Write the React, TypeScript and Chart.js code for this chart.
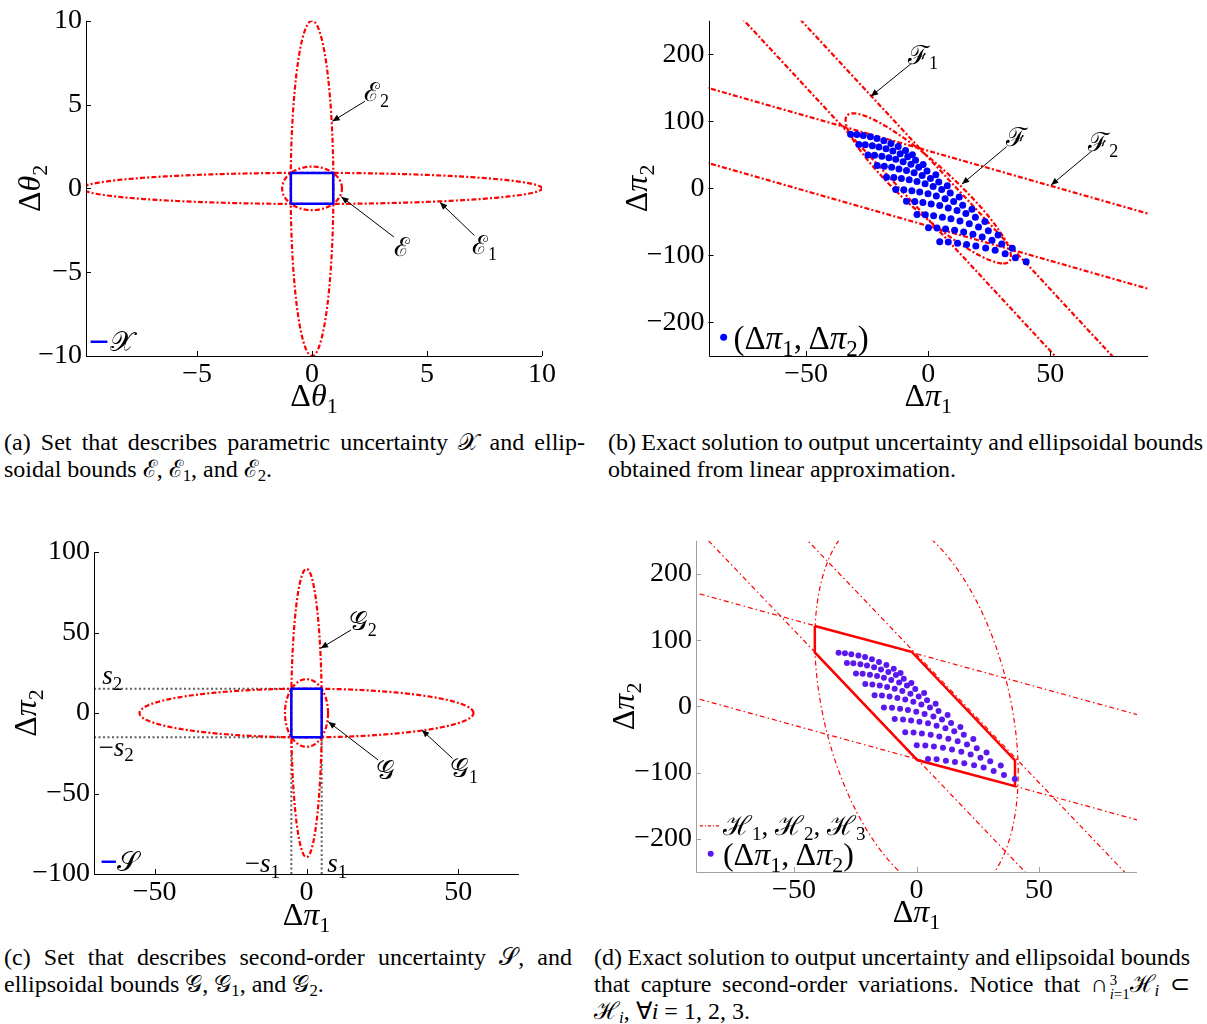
import React, { useEffect, useRef } from "react";
import { Chart, registerables } from "chart.js";
Chart.register(...registerables);

const FONT = "'Liberation Serif', 'Times New Roman', Times, serif";
const SCR = { X: "\u{1D4B3}", E: "\u2130", F: "\u2131", G: "\u{1D4A2}", S: "\u{1D4AE}", H: "\u210B" };

// ---------------- Panel (a) data ----------------
const A_X_LIMITS = [-9.83, 10];
const A_Y_LIMITS = [-10, 10];
const A_X_TICKS = [-5, 0, 5, 10];
const A_Y_TICKS = [-10, -5, 0, 5, 10];
const X_SET_HALF = [0.92, 0.92];
const E_SEMI = [1.3, 1.3];
const E1_SEMI = [10, 0.93];
const E2_SEMI = [0.93, 10];

// ---------------- Panel (b) data ----------------
const PI_X_LIMITS = [-90, 90];
const PI_Y_LIMITS = [-250, 250];
const PI_X_TICKS = [-50, 0, 50];
const PI_Y_TICKS = [-200, -100, 0, 100, 200];
const F1_STRIP = [-3.93, 46]; // slope, offset
const F2_STRIP = [-1.04, 56];
const F_CONJ_P = [30.7, -112];
const F_CONJ_Q = [14.3, 0];

// exact solution samples (Δπ1, Δπ2), one row per line of the lattice
const EXACT_ROWS_X = [
  [-31.8, -29.2, -26.6, -23.7, -21.0, -18.2, -15.3, -12.3, -9.3, -6.5],
  [-28.4, -25.8, -22.9, -20.2, -17.3, -14.5, -11.5, -8.4, -5.2, -2.1],
  [-24.7, -22.0, -19.0, -16.1, -13.3, -10.3, -7.1, -3.9, -0.5, 3.1],
  [-20.9, -18.0, -15.0, -12.0, -8.9, -5.8, -2.5, 0.9, 4.3, 7.8],
  [-17.1, -14.1, -11.0, -7.8, -4.6, -1.3, 2.0, 5.5, 9.0, 12.7],
  [-13.3, -10.0, -6.7, -3.5, -0.1, 3.3, 6.9, 10.4, 14.1, 17.9],
  [-8.9, -5.5, -2.2, 1.2, 4.7, 8.2, 11.8, 15.4, 19.3, 23.2],
  [-4.6, -1.2, 2.2, 5.8, 9.3, 13.0, 16.8, 20.6, 24.6, 28.6],
  [0.1, 3.6, 7.1, 10.8, 14.5, 18.3, 22.1, 26.1, 30.1, 34.4],
  [4.7, 8.2, 12.0, 15.7, 19.5, 23.5, 27.4, 31.5, 35.7, 40.1],
];
const EXACT_ROWS_Y = [
  [80.9, 80.4, 78.9, 76.9, 74.5, 71.0, 67.1, 62.6, 56.7, 50.3],
  [65.6, 65.1, 63.6, 61.6, 59.2, 55.7, 51.8, 47.3, 41.9, 35.5],
  [49.8, 49.3, 47.8, 45.9, 43.4, 39.9, 36.0, 31.6, 26.1, 20.2],
  [34.0, 33.0, 31.6, 29.1, 26.6, 23.2, 19.2, 14.8, 9.4, 3.9],
  [16.8, 16.3, 14.8, 12.8, 10.4, 6.9, 3.0, -1.5, -6.9, -12.8],
  [-1.5, -2.0, -3.4, -5.4, -7.9, -11.3, -15.3, -19.7, -25.1, -31.1],
  [-19.2, -19.7, -21.2, -23.2, -25.6, -29.1, -33.0, -37.5, -42.9, -49.3],
  [-39.0, -39.4, -40.9, -42.9, -45.4, -48.8, -52.8, -57.7, -63.1, -69.5],
  [-58.7, -59.2, -60.7, -62.6, -65.1, -68.5, -72.5, -77.4, -82.8, -89.2],
  [-79.4, -79.9, -81.9, -83.8, -85.8, -88.8, -92.2, -97.6, -103.6, -109.5],
];

// ---------------- Panel (c) data ----------------
const C_X_LIMITS = [-70, 70];
const C_Y_LIMITS = [-100, 100];
const C_X_TICKS = [-50, 0, 50];
const C_Y_TICKS = [-100, -50, 0, 50, 100];
const S_SET_HALF = [5, 15];
const G_SEMI = [7.1, 21];
const G1_SEMI = [55, 15.1];
const G2_SEMI = [5.05, 89.5];

// ---------------- Panel (d) data ----------------
const H1_STRIP = [-3.87, 78.5];
const H2_STRIP = [-1.02, 79.5];
const H3_CONJ_P = [41.5, -100];
const H3_CONJ_Q = [0, 270];
const H_POLY_X = [-41.5, -41.5, 0.3, 40.2, 40.2, -2.0, -41.5];
const H_POLY_Y = [121.5, 81.5, -81.0, -120.5, -81.5, 82.5, 121.5];

// ---------------- helpers ----------------
type P2 = { x: number; y: number };
const conjEllipse = (P: number[], Q: number[], n = 360): P2[] =>
  Array.from({ length: n + 1 }, (_, i) => {
    const t = (2 * Math.PI * i) / n;
    return { x: P[0] * Math.cos(t) + Q[0] * Math.sin(t), y: P[1] * Math.cos(t) + Q[1] * Math.sin(t) };
  });
const axisEllipse = (s: number[]) => conjEllipse([s[0], 0], [0, s[1]]);
const box = (h: number[]): P2[] => [
  { x: -h[0], y: -h[1] }, { x: h[0], y: -h[1] }, { x: h[0], y: h[1] }, { x: -h[0], y: h[1] }, { x: -h[0], y: -h[1] },
];
const stripLine = (s: number[], sign: number): P2[] => [
  { x: -300, y: s[0] * -300 + sign * s[1] },
  { x: 300, y: s[0] * 300 + sign * s[1] },
];
const exactPoints = (): P2[] => EXACT_ROWS_X.flatMap((row, i) => row.map((x, j) => ({ x, y: EXACT_ROWS_Y[i][j] })));
const polyPoints = (): P2[] => H_POLY_X.map((x, i) => ({ x, y: H_POLY_Y[i] }));

const RED = "#ff0000";
const BLUE = "#0000ff";
const PURPLE = "#5a18ee";
const GRAY = "#5f5f5f";
const DASHDOT = [5, 2.2, 2, 2.2];
const THINDASH = [5, 3, 1.5, 3];

const lineDs = (data: P2[], color: string, width: number, dash: number[] = []) => ({
  data, showLine: true, borderColor: color, borderWidth: width, borderDash: dash,
  pointRadius: 0, pointHoverRadius: 0, fill: false, tension: 0, backgroundColor: color,
});
const dotDs = (data: P2[], color: string, r: number) => ({
  data, showLine: false, pointRadius: r, pointHoverRadius: r, pointBackgroundColor: color,
  pointBorderWidth: 0, borderColor: color, backgroundColor: color,
});

type Part = { t: string; it?: boolean; sub?: boolean };
const D = (t: string): Part => ({ t });
const I = (t: string): Part => ({ t, it: true });
const Sb = (t: string): Part => ({ t, sub: true });

function drawParts(ctx: CanvasRenderingContext2D, parts: Part[], x: number, y: number, size: number, align: "left" | "center") {
  ctx.textBaseline = "alphabetic";
  ctx.textAlign = "left";
  const fontOf = (p: Part) => `${p.it ? "italic " : ""}${p.sub ? Math.round(size * 0.7) : size}px ${FONT}`;
  const ws = parts.map((p) => { ctx.font = fontOf(p); return ctx.measureText(p.t).width; });
  const total = ws.reduce((a, b) => a + b, 0);
  let cx = align === "center" ? x - total / 2 : x;
  parts.forEach((p, i) => {
    ctx.font = fontOf(p);
    ctx.fillText(p.t, cx, y + (p.sub ? size * 0.22 : 0));
    cx += ws[i];
  });
}

type Label = { at: number[]; parts: Part[]; size: number; align?: "left" | "center" };
type PanelCfg = {
  left: number; top: number; w: number; h: number;
  area: { l: number; r: number; t: number; b: number };
  xLim: number[]; yLim: number[]; xTicks: number[]; yTicks: number[];
  datasets: any[];
  axisColor: string;
  xTitle: Part[]; yTitle: Part[]; xTitleDy: number; yTitleDx: number;
  arrows: number[][];
  labels: Label[];
  legendLines: { from: number[]; to: number[]; color: string; width: number; dash?: number[] }[];
  legendDots: { at: number[]; color: string; r: number }[];
};

const TICK_SIZE = 28;
const TITLE_SIZE = 32;
const Y_W = 70;
const X_H = 40;
const fmt = (v: any) => String(v).replace("-", "\u2212");

function overlay(cfg: PanelCfg) {
  return {
    id: "overlay",
    afterDraw(chart: any) {
      const { ctx, chartArea: a } = chart;
      const xs = chart.scales.x, ys = chart.scales.y;
      const px = (v: number) => xs.getPixelForValue(v);
      const py = (v: number) => ys.getPixelForValue(v);
      ctx.save();
      // axes
      ctx.strokeStyle = cfg.axisColor;
      ctx.lineWidth = 1;
      ctx.setLineDash([]);
      ctx.beginPath();
      ctx.moveTo(Math.round(a.left) + 0.5, a.top);
      ctx.lineTo(Math.round(a.left) + 0.5, Math.round(a.bottom) + 0.5);
      ctx.lineTo(a.right, Math.round(a.bottom) + 0.5);
      cfg.xTicks.forEach((v) => {
        const p = Math.round(px(v)) + 0.5;
        ctx.moveTo(p, a.bottom);
        ctx.lineTo(p, a.bottom - 5);
      });
      cfg.yTicks.forEach((v) => {
        const p = Math.round(py(v)) + 0.5;
        ctx.moveTo(a.left, p);
        ctx.lineTo(a.left + 5, p);
      });
      ctx.stroke();
      // titles
      ctx.fillStyle = "#000";
      drawParts(ctx, cfg.xTitle, (a.left + a.right) / 2, a.bottom + cfg.xTitleDy, TITLE_SIZE, "center");
      ctx.save();
      ctx.translate(a.left - cfg.yTitleDx, (a.top + a.bottom) / 2);
      ctx.rotate(-Math.PI / 2);
      drawParts(ctx, cfg.yTitle, 0, 0, TITLE_SIZE, "center");
      ctx.restore();
      // arrows
      ctx.strokeStyle = "#000";
      ctx.lineWidth = 1;
      cfg.arrows.forEach(([x1, y1, x2, y2]) => {
        const X1 = px(x1), Y1 = py(y1), X2 = px(x2), Y2 = py(y2);
        const ang = Math.atan2(Y2 - Y1, X2 - X1);
        ctx.beginPath();
        ctx.moveTo(X1, Y1);
        ctx.lineTo(X2, Y2);
        ctx.stroke();
        ctx.beginPath();
        ctx.moveTo(X2, Y2);
        ctx.lineTo(X2 - 8 * Math.cos(ang - 0.4), Y2 - 8 * Math.sin(ang - 0.4));
        ctx.lineTo(X2 - 8 * Math.cos(ang + 0.4), Y2 - 8 * Math.sin(ang + 0.4));
        ctx.closePath();
        ctx.fillStyle = "#000";
        ctx.fill();
      });
      // labels
      ctx.fillStyle = "#000";
      cfg.labels.forEach((l) => {
        drawParts(ctx, l.parts, px(l.at[0]), py(l.at[1]) + l.size * 0.33, l.size, l.align || "center");
      });
      // legend
      cfg.legendLines.forEach((l) => {
        ctx.strokeStyle = l.color;
        ctx.lineWidth = l.width;
        ctx.setLineDash(l.dash || []);
        ctx.beginPath();
        ctx.moveTo(px(l.from[0]), py(l.from[1]));
        ctx.lineTo(px(l.to[0]), py(l.to[1]));
        ctx.stroke();
      });
      ctx.setLineDash([]);
      cfg.legendDots.forEach((d) => {
        ctx.fillStyle = d.color;
        ctx.beginPath();
        ctx.arc(px(d.at[0]), py(d.at[1]), d.r, 0, Math.PI * 2);
        ctx.fill();
      });
      ctx.restore();
    },
  };
}

function makeChart(canvas: HTMLCanvasElement, cfg: PanelCfg) {
  const tickFont = { family: FONT, size: TICK_SIZE };
  return new Chart(canvas, {
    type: "scatter",
    data: { datasets: cfg.datasets },
    options: {
      animation: false,
      responsive: false,
      maintainAspectRatio: false,
      events: [],
      layout: {
        padding: { left: cfg.area.l - Y_W, right: cfg.w - cfg.area.r, top: cfg.area.t, bottom: cfg.h - cfg.area.b - X_H },
      },
      plugins: { legend: { display: false }, tooltip: { enabled: false } },
      scales: {
        x: {
          type: "linear", min: cfg.xLim[0], max: cfg.xLim[1],
          afterBuildTicks: (s: any) => { s.ticks = cfg.xTicks.map((v) => ({ value: v })); },
          afterFit: (s: any) => { s.height = X_H; },
          grid: { display: false, drawTicks: false }, border: { display: false },
          ticks: { color: "#000", font: tickFont, padding: 2, maxRotation: 0, minRotation: 0, autoSkip: false, callback: fmt },
        },
        y: {
          type: "linear", min: cfg.yLim[0], max: cfg.yLim[1],
          afterBuildTicks: (s: any) => { s.ticks = cfg.yTicks.map((v) => ({ value: v })); },
          afterFit: (s: any) => { s.width = Y_W; },
          grid: { display: false, drawTicks: false }, border: { display: false },
          ticks: { color: "#000", font: tickFont, padding: 4, autoSkip: false, callback: fmt },
        },
      },
    } as any,
    plugins: [overlay(cfg)],
  });
}

const piX: Part[] = [D("\u0394"), I("\u03C0"), Sb("1")];
const piY: Part[] = [D("\u0394"), I("\u03C0"), Sb("2")];
const pairParts: Part[] = [D("("), D("\u0394"), I("\u03C0"), Sb("1"), D(",\u2009"), D("\u0394"), I("\u03C0"), Sb("2"), D(")")];

const PANELS: PanelCfg[] = [
  {
    left: 0, top: 0, w: 600, h: 420, area: { l: 86, r: 542, t: 18, b: 356 },
    xLim: A_X_LIMITS, yLim: A_Y_LIMITS, xTicks: A_X_TICKS, yTicks: A_Y_TICKS,
    datasets: [
      lineDs(box(X_SET_HALF), BLUE, 2.5),
      lineDs(axisEllipse(E_SEMI), RED, 2.2, DASHDOT),
      lineDs(axisEllipse(E1_SEMI), RED, 2.2, DASHDOT),
      lineDs(axisEllipse(E2_SEMI), RED, 2.2, DASHDOT),
    ],
    axisColor: "#000",
    xTitle: [D("\u0394"), I("\u03B8"), Sb("1")], yTitle: [D("\u0394"), I("\u03B8"), Sb("2")],
    xTitleDy: 50, yTitleDx: 46,
    arrows: [[2.3, 5.2, 0.88, 4.0], [3.56, -2.9, 1.27, -0.5], [7.06, -2.81, 5.56, -0.83]],
    labels: [
      { at: [2.8, 5.7], parts: [D(SCR.E), Sb("2")], size: 26 },
      { at: [3.9, -3.5], parts: [D(SCR.E)], size: 26 },
      { at: [7.5, -3.4], parts: [D(SCR.E), Sb("1")], size: 26 },
      { at: [-8.8, -9.15], parts: [D(SCR.X)], size: 28, align: "left" },
    ],
    legendLines: [{ from: [-9.63, -9.15], to: [-8.9, -9.15], color: BLUE, width: 2.5 }],
    legendDots: [],
  },
  {
    left: 600, top: 0, w: 607, h: 420, area: { l: 108.5, r: 548, t: 19, b: 356 },
    xLim: PI_X_LIMITS, yLim: PI_Y_LIMITS, xTicks: PI_X_TICKS, yTicks: PI_Y_TICKS,
    datasets: [
      dotDs(exactPoints(), BLUE, 3.5),
      lineDs(conjEllipse(F_CONJ_P, F_CONJ_Q), RED, 2.2, DASHDOT),
      lineDs(stripLine(F1_STRIP, 1), RED, 2.2, DASHDOT),
      lineDs(stripLine(F1_STRIP, -1), RED, 2.2, DASHDOT),
      lineDs(stripLine(F2_STRIP, 1), RED, 2.2, DASHDOT),
      lineDs(stripLine(F2_STRIP, -1), RED, 2.2, DASHDOT),
    ],
    axisColor: "#000",
    xTitle: piX, yTitle: piY, xTitleDy: 50, yTitleDx: 62,
    arrows: [[-6.8, 186.7, -23.5, 137.3], [32.1, 62.2, 13.8, 6.4], [67, 55.8, 50.3, 4.9]],
    labels: [
      { at: [-2.1, 199], parts: [D(SCR.F), Sb("1")], size: 26 },
      { at: [36, 75.6], parts: [D(SCR.F)], size: 26 },
      { at: [71.7, 68.1], parts: [D(SCR.F), Sb("2")], size: 26 },
      { at: [-79.8, -223], parts: pairParts, size: 33, align: "left" },
    ],
    legendLines: [],
    legendDots: [{ at: [-83.8, -222], color: BLUE, r: 3.5 }],
  },
  {
    left: 0, top: 520, w: 600, h: 420, area: { l: 94, r: 519, t: 32, b: 354 },
    xLim: C_X_LIMITS, yLim: C_Y_LIMITS, xTicks: C_X_TICKS, yTicks: C_Y_TICKS,
    datasets: [
      lineDs(box(S_SET_HALF), BLUE, 2.5),
      lineDs(axisEllipse(G_SEMI), RED, 2.2, DASHDOT),
      lineDs(axisEllipse(G1_SEMI), RED, 2.2, DASHDOT),
      lineDs(axisEllipse(G2_SEMI), RED, 2.2, DASHDOT),
      lineDs([{ x: -70, y: S_SET_HALF[1] }, { x: -S_SET_HALF[0], y: S_SET_HALF[1] }], GRAY, 2, [2, 2.5]),
      lineDs([{ x: -70, y: -S_SET_HALF[1] }, { x: -S_SET_HALF[0], y: -S_SET_HALF[1] }], GRAY, 2, [2, 2.5]),
      lineDs([{ x: -S_SET_HALF[0], y: -100 }, { x: -S_SET_HALF[0], y: -S_SET_HALF[1] }], GRAY, 2, [2, 2.5]),
      lineDs([{ x: S_SET_HALF[0], y: -100 }, { x: S_SET_HALF[0], y: -S_SET_HALF[1] }], GRAY, 2, [2, 2.5]),
    ],
    axisColor: "#000",
    xTitle: piX, yTitle: piY, xTitleDy: 51, yTitleDx: 58,
    arrows: [[14.7, 51.6, 4.66, 40.2], [23.6, -29.2, 7.18, -5.4], [48.1, -28.2, 38, -10.6]],
    labels: [
      { at: [18.5, 56.8], parts: [D(SCR.G), Sb("2")], size: 26 },
      { at: [26.1, -35.4], parts: [D(SCR.G)], size: 26 },
      { at: [51.9, -34.4], parts: [D(SCR.G), Sb("1")], size: 26 },
      { at: [-64, 23.6], parts: [I("s"), Sb("2")], size: 27 },
      { at: [-62.7, -20.9], parts: [D("\u2212"), I("s"), Sb("2")], size: 27 },
      { at: [-14.5, -93.5], parts: [D("\u2212"), I("s"), Sb("1")], size: 27 },
      { at: [10.1, -93.5], parts: [I("s"), Sb("1")], size: 27 },
      { at: [-62.3, -92.4], parts: [D(SCR.S)], size: 28, align: "left" },
    ],
    legendLines: [{ from: [-67.5, -92.4], to: [-62.8, -92.4], color: BLUE, width: 2.5 }],
    legendDots: [],
  },
  {
    left: 600, top: 520, w: 607, h: 420, area: { l: 96, r: 537, t: 14, b: 352 },
    xLim: PI_X_LIMITS, yLim: PI_Y_LIMITS, xTicks: PI_X_TICKS, yTicks: PI_Y_TICKS,
    datasets: [
      dotDs(exactPoints(), PURPLE, 3),
      lineDs(polyPoints(), RED, 2.5),
      lineDs(conjEllipse(H3_CONJ_P, H3_CONJ_Q), RED, 1.2, THINDASH),
      lineDs(stripLine(H1_STRIP, 1), RED, 1.2, THINDASH),
      lineDs(stripLine(H1_STRIP, -1), RED, 1.2, THINDASH),
      lineDs(stripLine(H2_STRIP, 1), RED, 1.2, THINDASH),
      lineDs(stripLine(H2_STRIP, -1), RED, 1.2, THINDASH),
    ],
    axisColor: "#a0a0a0",
    xTitle: piX, yTitle: piY, xTitleDy: 50, yTitleDx: 62,
    arrows: [],
    labels: [
      { at: [-79, -180], parts: [D(SCR.H), Sb("1"), D(", "), D(SCR.H), Sb("2"), D(", "), D(SCR.H), Sb("3")], size: 27, align: "left" },
      { at: [-79, -224], parts: pairParts, size: 32, align: "left" },
    ],
    legendLines: [{ from: [-88.4, -180.5], to: [-80.2, -180.5], color: RED, width: 1.2, dash: [3, 2, 1, 2] }],
    legendDots: [{ at: [-84, -222.3], color: PURPLE, r: 3 }],
  },
];

function Panel({ cfg }: { cfg: PanelCfg }) {
  const ref = useRef<HTMLCanvasElement>(null);
  useEffect(() => {
    if (!ref.current) return;
    const ch = makeChart(ref.current, cfg);
    return () => ch.destroy();
  }, [cfg]);
  return (
    <canvas
      ref={ref}
      width={cfg.w}
      height={cfg.h}
      style={{ position: "absolute", left: cfg.left, top: cfg.top, width: cfg.w, height: cfg.h }}
    />
  );
}

const Sub = ({ children }: { children: any }) => (
  <sub style={{ fontSize: "0.7em", verticalAlign: "-0.25em", lineHeight: 0 }}>{children}</sub>
);

function CapLine({ left, width, top, justify, children }: any) {
  return (
    <div
      style={{
        position: "absolute", left, top, width, fontFamily: FONT, fontSize: 24, lineHeight: "27px",
        textAlign: justify ? "justify" : "left", textAlignLast: justify ? "justify" : "left",
        wordSpacing: justify ? "-2px" : "0px", whiteSpace: "nowrap", color: "#000",
      } as any}
    >
      {children}
    </div>
  );
}

const BigCap = () => (
  <span>
    {"\u2229"}
    <span
      style={{
        display: "inline-block", verticalAlign: "-0.5em", fontSize: "0.62em", lineHeight: "0.95",
        marginTop: "-1em", marginBottom: "-1em", marginLeft: "0.1em", textAlign: "left",
      }}
    >
      <span style={{ display: "block" }}>3</span>
      <span style={{ display: "block" }}><i>i</i>=1</span>
    </span>
  </span>
);

export default function App() {
  useEffect(() => {
    document.body.style.margin = "0";
    document.body.style.background = "#fff";
  }, []);
  return (
    <div style={{ position: "relative", width: 1207, height: 1024, background: "#fff", overflow: "hidden" }}>
      {PANELS.map((p, i) => <Panel key={i} cfg={p} />)}
      <CapLine left={4} width={581} top={429} justify>(a) Set that describes parametric uncertainty {SCR.X} and ellip-</CapLine>
      <CapLine left={4} width={581} top={456}>soidal bounds {SCR.E}, {SCR.E}<Sub>1</Sub>, and {SCR.E}<Sub>2</Sub>.</CapLine>
      <CapLine left={608} width={595} top={429} justify>(b) Exact solution to output uncertainty and ellipsoidal bounds</CapLine>
      <CapLine left={608} width={595} top={456}>obtained from linear approximation.</CapLine>
      <CapLine left={4} width={568} top={944} justify>(c) Set that describes second-order uncertainty {SCR.S}, and</CapLine>
      <CapLine left={4} width={568} top={971}>ellipsoidal bounds {SCR.G}, {SCR.G}<Sub>1</Sub>, and {SCR.G}<Sub>2</Sub>.</CapLine>
      <CapLine left={594} width={596} top={944} justify>(d) Exact solution to output uncertainty and ellipsoidal bounds</CapLine>
      <CapLine left={594} width={596} top={971} justify>
        that capture second-order variations. Notice that <BigCap />{SCR.H}<Sub><i>i</i></Sub> {"\u2282"}
      </CapLine>
      <CapLine left={594} width={596} top={998}>
        {SCR.H}<Sub><i>i</i></Sub>, {"\u2200"}<i>i</i> = 1, 2, 3.
      </CapLine>
    </div>
  );
}
